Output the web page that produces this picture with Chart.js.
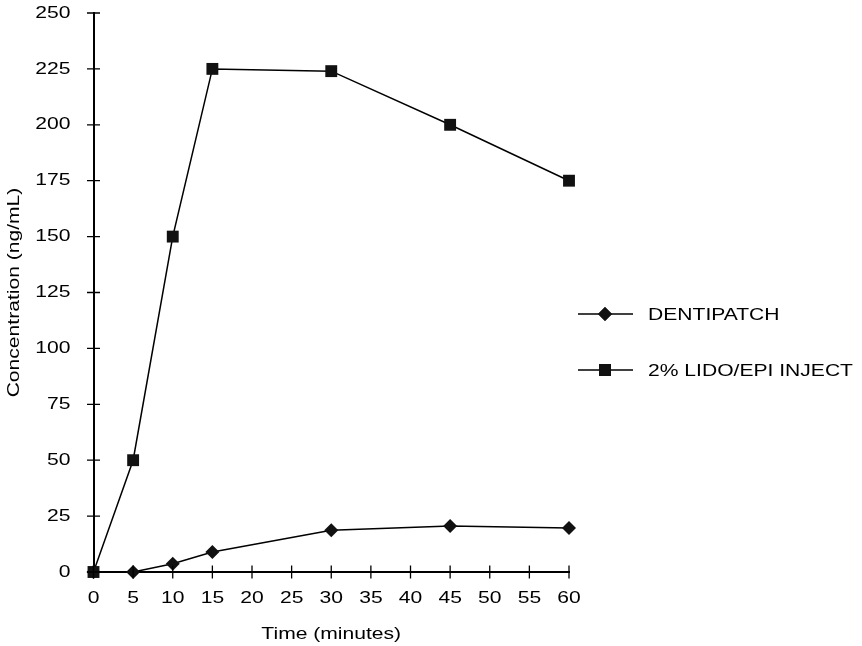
<!DOCTYPE html>
<html>
<head>
<meta charset="utf-8">
<script src="https://cdn.jsdelivr.net/npm/chart.js@4.4.1/dist/chart.umd.min.js"></script>
<style>
  html, body { margin: 0; padding: 0; background: #fff; }
  #wrap { width: 862px; height: 646px; position: relative; }
</style>
</head>
<body>
<div id="wrap"><canvas id="c"></canvas></div>
<script>
// Sampling times (minutes)
const timePoints = [0, 5, 10, 15, 30, 45, 60];
// Plasma lidocaine concentration (ng/mL)
const dentipatch = [0, 0, 3.7, 8.9, 18.7, 20.6, 19.7];
const lidoEpiInject = [0, 50, 150, 225, 224, 200, 175];
const seriesNames = ['DENTIPATCH', '2% LIDO/EPI INJECT'];
const xTitle = 'Time (minutes)';
const yTitle = 'Concentration (ng/mL)';

const FONT = 'Arial, "Liberation Sans", Helvetica, sans-serif';
const FONT_SIZE = 17;
const TEXT_STRETCH = 1.24; // wide lettering
const toXY = (vals) => vals.map((v, i) => ({ x: timePoints[i], y: v }));

const canvas = document.getElementById('c');
const ctx2d = canvas.getContext('2d');
// Draw every text run horizontally widened around its anchor point
const nativeFillText = ctx2d.fillText.bind(ctx2d);
ctx2d.fillText = function (text, x, y) {
  this.save();
  this.translate(x, y);
  this.scale(TEXT_STRETCH, 1);
  nativeFillText(text, 0, 0);
  this.restore();
};

// Tick marks that cross the axis lines
const crossTicks = {
  id: 'crossTicks',
  afterDatasetsDraw(chart) {
    const ctx = chart.ctx;
    const xs = chart.scales.x, ys = chart.scales.y;
    const half = 6.5;
    ctx.save();
    ctx.strokeStyle = '#000';
    ctx.lineWidth = 1.3;
    ctx.beginPath();
    xs.ticks.forEach(t => {
      const px = xs.getPixelForValue(t.value);
      ctx.moveTo(px, xs.top - half);
      ctx.lineTo(px, xs.top + half);
    });
    ys.ticks.forEach(t => {
      const py = ys.getPixelForValue(t.value);
      ctx.moveTo(ys.right - half, py);
      ctx.lineTo(ys.right + half, py);
    });
    ctx.stroke();
    ctx.restore();
  }
};

// Legend at the right, built from the dataset styles
const sideLegend = {
  id: 'sideLegend',
  afterDraw(chart) {
    const ctx = chart.ctx;
    const rows = [314, 370];
    const x0 = 578, x1 = 633, xm = 605, xt = 648;
    ctx.save();
    chart.data.datasets.forEach((ds, i) => {
      const y = rows[i];
      ctx.strokeStyle = ds.borderColor;
      ctx.lineWidth = ds.borderWidth;
      ctx.beginPath();
      ctx.moveTo(x0, y);
      ctx.lineTo(x1, y);
      ctx.stroke();
      Chart.helpers.drawPoint(ctx, {
        pointStyle: ds.pointStyle,
        radius: ds.pointRadius,
        borderWidth: 0,
        rotation: 0
      }, xm, y);
      ctx.fillStyle = ds.pointBackgroundColor;
      ctx.fill();
      ctx.fillStyle = '#000';
      ctx.font = FONT_SIZE + 'px ' + FONT;
      ctx.textBaseline = 'middle';
      ctx.textAlign = 'left';
      ctx.fillText(ds.label, xt, y + 1);
    });
    ctx.restore();
  }
};

new Chart(canvas, {
  type: 'line',
  data: {
    datasets: [
      {
        label: seriesNames[0],
        data: toXY(dentipatch),
        borderColor: '#000',
        borderWidth: 1.5,
        pointStyle: 'rectRot',
        pointRadius: 7,
        pointBackgroundColor: '#111',
        pointBorderColor: '#111',
        pointBorderWidth: 0,
        tension: 0,
        clip: false,
        order: 1
      },
      {
        label: seriesNames[1],
        data: toXY(lidoEpiInject),
        borderColor: '#000',
        borderWidth: 1.5,
        pointStyle: 'rect',
        pointRadius: 8.4,
        pointBackgroundColor: '#111',
        pointBorderColor: '#111',
        pointBorderWidth: 0,
        tension: 0,
        clip: false,
        order: 0
      }
    ]
  },
  options: {
    responsive: true,
    maintainAspectRatio: false,
    animation: false,
    devicePixelRatio: 1,
    layout: { padding: { top: 13, right: 293, bottom: 0, left: 0 } },
    plugins: {
      legend: { display: false },
      tooltip: { enabled: false }
    },
    scales: {
      x: {
        type: 'linear',
        min: 0, max: 60,
        grid: { display: false },
        border: { display: true, color: '#000', width: 2 },
        ticks: {
          stepSize: 5,
          color: '#000',
          padding: 8,
          maxRotation: 0,
          autoSkip: false,
          font: { family: FONT, size: FONT_SIZE }
        },
        title: {
          display: true,
          text: xTitle,
          color: '#000',
          font: { family: FONT, size: FONT_SIZE },
          padding: { top: 0, bottom: 1 }
        },
        afterFit(scale) { scale.height = 74; scale.paddingLeft = 0; scale.paddingRight = 0; }
      },
      y: {
        type: 'linear',
        min: 0, max: 250,
        grid: { display: false },
        border: { display: true, color: '#000', width: 2 },
        ticks: {
          stepSize: 25,
          color: '#000',
          padding: 15,
          autoSkip: false,
          font: { family: FONT, size: FONT_SIZE }
        },
        title: {
          display: true,
          text: yTitle,
          color: '#000',
          font: { family: FONT, size: FONT_SIZE },
          padding: { top: 4, bottom: 0 }
        },
        afterFit(scale) { scale.width = 93.5; scale.paddingTop = 0; scale.paddingBottom = 0; }
      }
    }
  },
  plugins: [crossTicks, sideLegend]
});
</script>
</body>
</html>
